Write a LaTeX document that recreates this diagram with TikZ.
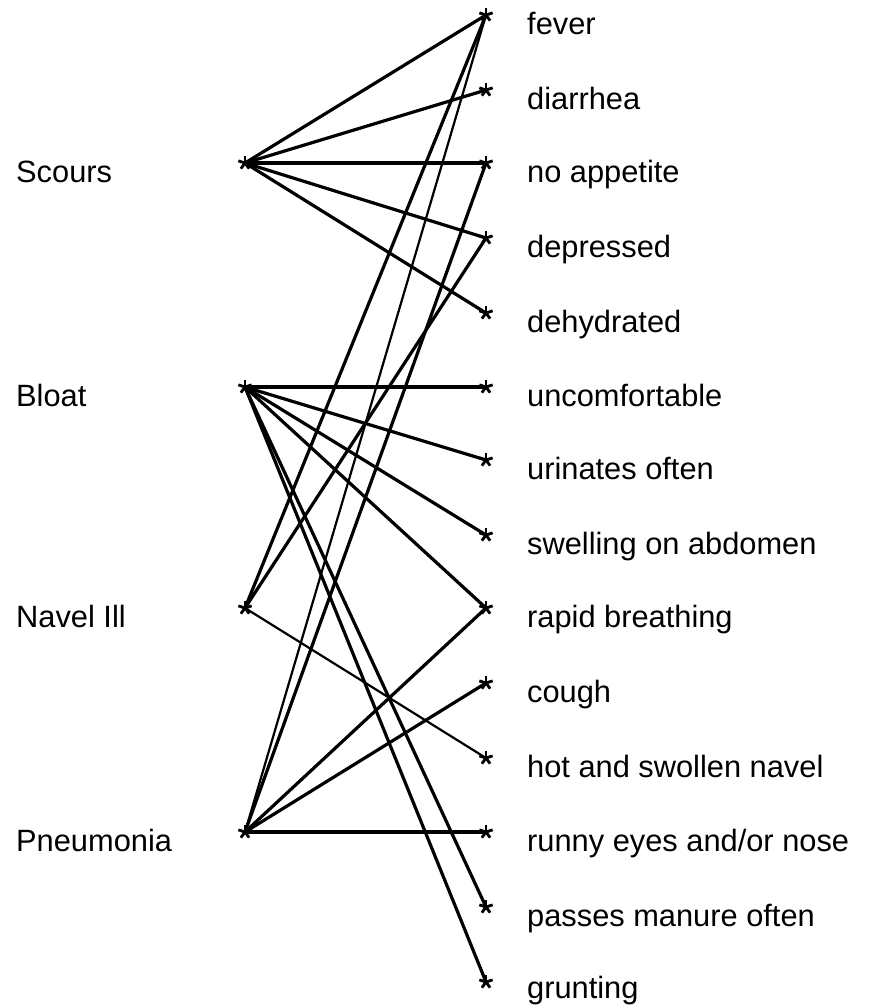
\documentclass[tikz,border=0pt]{standalone}
\usepackage{fontspec}
\setmainfont{Liberation Sans}
\begin{document}
\begin{tikzpicture}[x=1pt,y=-1pt,
  lbl/.style={anchor=base west,inner sep=0pt,font=\fontsize{30.8}{36}\selectfont},
  link/.style={line width=3.2pt,line cap=round},
  thinlink/.style={line width=2.2pt,line cap=round},
  astr/.style={line width=2.8pt}]
\useasboundingbox (0,0) rectangle (872,1005);
% left coordinates
\coordinate (L1) at (245,163);
\coordinate (L2) at (245,387);
\coordinate (L3) at (245,608);
\coordinate (L4) at (245,832);
% right coordinates
\foreach \n/\y in {1/15,2/90,3/163,4/238,5/313,6/387,7/460,8/535,9/608,10/683,11/758,12/832,13/907,14/982}
  \coordinate (R\n) at (486,\y);
% left labels
\node[lbl] (tL1) at (16,182) {Scours};
\node[lbl] (tL2) at (16,406) {Bloat};
\node[lbl] (tL3) at (16,627) {Navel Ill};
\node[lbl] (tL4) at (16,851) {Pneumonia};
% right labels
\foreach \n/\y/\t in {1/15/{fever},2/90/{diarrhea},3/163/{no appetite},4/238/{depressed},5/313/{dehydrated},6/387/{uncomfortable},7/460/{urinates often},8/535/{swelling on abdomen},9/608/{rapid breathing},10/683/{cough},11/758/{hot and swollen navel},12/832/{runny eyes and/or nose},13/907/{passes manure often},14/979/{grunting}}
  \node[lbl] (tR\n) at (527,\y+19) {\t};
% Scours
\foreach \r in {1,2,3,4,5} \draw[link] (L1) -- (R\r);
% Bloat
\foreach \r in {6,7,8,9,13,14} \draw[link] (L2) -- (R\r);
% Navel Ill
\draw[link] (L3) -- (R1);
\draw[link] (L3) -- (R4);
\draw[thinlink] (L3) -- (R11);
% Pneumonia
\draw[thinlink] (L4) -- (R1);
\draw[link] (L4) -- (R3);
\draw[link] (L4) -- (R9);
\draw[link] (L4) -- (R10);
\draw[link] (L4) -- (R12);
% asterisks
\foreach \c in {L1,L2,L3,L4,R1,R2,R3,R4,R5,R6,R7,R8,R9,R10,R11,R12,R13,R14}
  \foreach \a in {-90,-18,54,126,198}
    \draw[astr] (\c) -- ++(\a:7);
\end{tikzpicture}
\end{document}
